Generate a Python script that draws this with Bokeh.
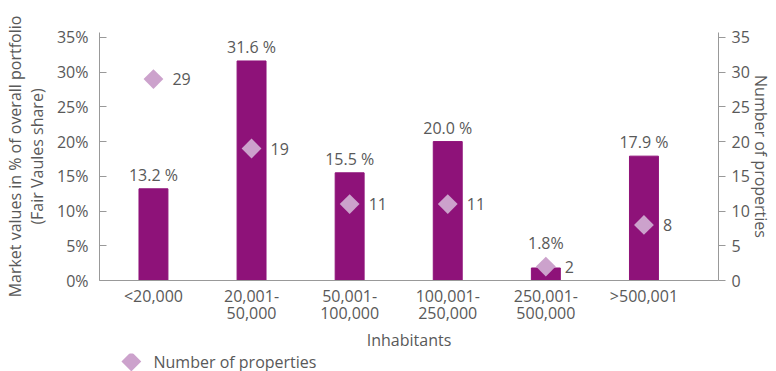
import numpy as np
from bokeh.plotting import figure
from bokeh.layouts import column
from bokeh.models import (Range1d, LinearAxis, FixedTicker, PrintfTickFormatter,
                          ColumnDataSource, Label)
from bokeh.core.properties import value
from bokeh.embed import file_html
from bokeh.resources import INLINE

categories = ["<20,000", "20,001-\n50,000", "50,001-\n100,000", "100,001-\n250,000",
              "250,001-\n500,000", ">500,001"]
share_pct = [13.2, 31.6, 15.5, 20.0, 1.8, 17.9]
share_labels = ["13.2 %", "31.6 %", "15.5 %", "20.0 %", "1.8%", "17.9 %"]
num_properties = [29, 19, 11, 11, 2, 8]
y_ticks = [0, 5, 10, 15, 20, 25, 30, 35]
series_name = "Number of properties"

# styling: vertical offset (px) of each share label above its bar
label_dy = [-14, -14, -14, -14, -25, -14]

FONT = "Open Sans"
TXT = "#595959"
AX = "#999999"
BAR = "#8E1279"
DIA = "#CCA2CC"

xpos = [i + 0.5 for i in range(len(categories))]
src = ColumnDataSource(dict(x=xpos, share=share_pct, slab=share_labels, dy=label_dy,
                            n=num_properties, nlab=[str(v) for v in num_properties]))

p = figure(width=776, height=353, output_backend="svg", toolbar_location=None,
           x_range=Range1d(-0.05, 6.26), y_range=Range1d(0, 35.7),
           min_border_left=96, min_border_right=58, min_border_top=32, min_border_bottom=72)
p.extra_y_ranges = {"right": Range1d(0, 35.7)}
p.outline_line_color = None
p.xgrid.visible = False
p.ygrid.visible = False
p.background_fill_color = "white"

p.vbar(x="x", top="share", width=0.295, color=BAR, source=src)
p.text(x="x", y="share", text="slab", source=src, text_align="center",
       text_baseline="middle", y_offset="dy", text_font=value(FONT),
       text_font_size="16px", text_color=TXT)

p.scatter(x="x", y="n", marker="square", angle=np.pi / 4, size=14, color=DIA,
          line_color=None, source=src, y_range_name="right")
p.text(x="x", y="n", text="nlab", source=src, y_range_name="right", x_offset=19,
       text_align="left", text_baseline="middle", text_font=value(FONT),
       text_font_size="16px", text_color=TXT)

# left axis
ly = p.yaxis[0]
ly.ticker = FixedTicker(ticks=y_ticks)
ly.formatter = PrintfTickFormatter(format="%d%%")
ly.axis_label = "Market values in % of overall portfolio\n(Fair Vaules share)"
ly.major_tick_in = 7
ly.major_tick_out = 0
ly.minor_tick_in = 0
ly.minor_tick_out = 0
ly.major_label_standoff = 11
ly.axis_label_standoff = 6
ly.axis_label_text_line_height = 1.0

# right axis
ry = LinearAxis(y_range_name="right", ticker=FixedTicker(ticks=y_ticks),
                axis_label=series_name)
ry.major_tick_in = 0
ry.major_tick_out = 7
ry.minor_tick_in = 0
ry.minor_tick_out = 0
ry.major_label_standoff = 6
ry.axis_label_standoff = -3
p.add_layout(ry, "right")

# x axis
xa = p.xaxis[0]
xa.ticker = FixedTicker(ticks=xpos)
xa.major_label_overrides = {x: c for x, c in zip(xpos, categories)}
xa.major_tick_in = 0
xa.major_tick_out = 0
xa.minor_tick_in = 0
xa.minor_tick_out = 0
xa.major_label_standoff = 4
xa.major_label_text_line_height = 0.78
xa.axis_label = "Inhabitants"
xa.axis_label_standoff = 2

for ax in [ly, ry, xa]:
    ax.axis_line_color = AX
    ax.major_tick_line_color = AX
    ax.major_label_text_font = FONT
    ax.major_label_text_font_size = "16px"
    ax.major_label_text_color = TXT
    ax.axis_label_text_font = FONT
    ax.axis_label_text_font_size = "16px"
    ax.axis_label_text_font_style = "normal"
    ax.axis_label_text_color = TXT

# legend strip below the chart (frame aligned with the chart's frame; pixel ranges)
lg = figure(width=776, height=18, output_backend="svg", toolbar_location=None,
            x_axis_type=None, y_axis_type=None,
            x_range=Range1d(0, 622), y_range=Range1d(0, 18),
            min_border=0, min_border_left=0, min_border_right=0,
            min_border_top=0, min_border_bottom=0)
lg.outline_line_color = None
lg.xgrid.visible = False
lg.ygrid.visible = False
# legend key
lg.scatter(x=[32], y=[10], marker="square", angle=np.pi / 4, size=14, color=DIA,
           line_color=None)
lg.add_layout(Label(x=54, y=10, x_units="screen", y_units="screen", text=series_name,
                    text_align="left", text_baseline="middle", text_font=FONT,
                    text_font_size="16px", text_color=TXT, text_line_height=1.0))

open("out.html", "w").write(file_html(column(p, lg, spacing=0), INLINE))
